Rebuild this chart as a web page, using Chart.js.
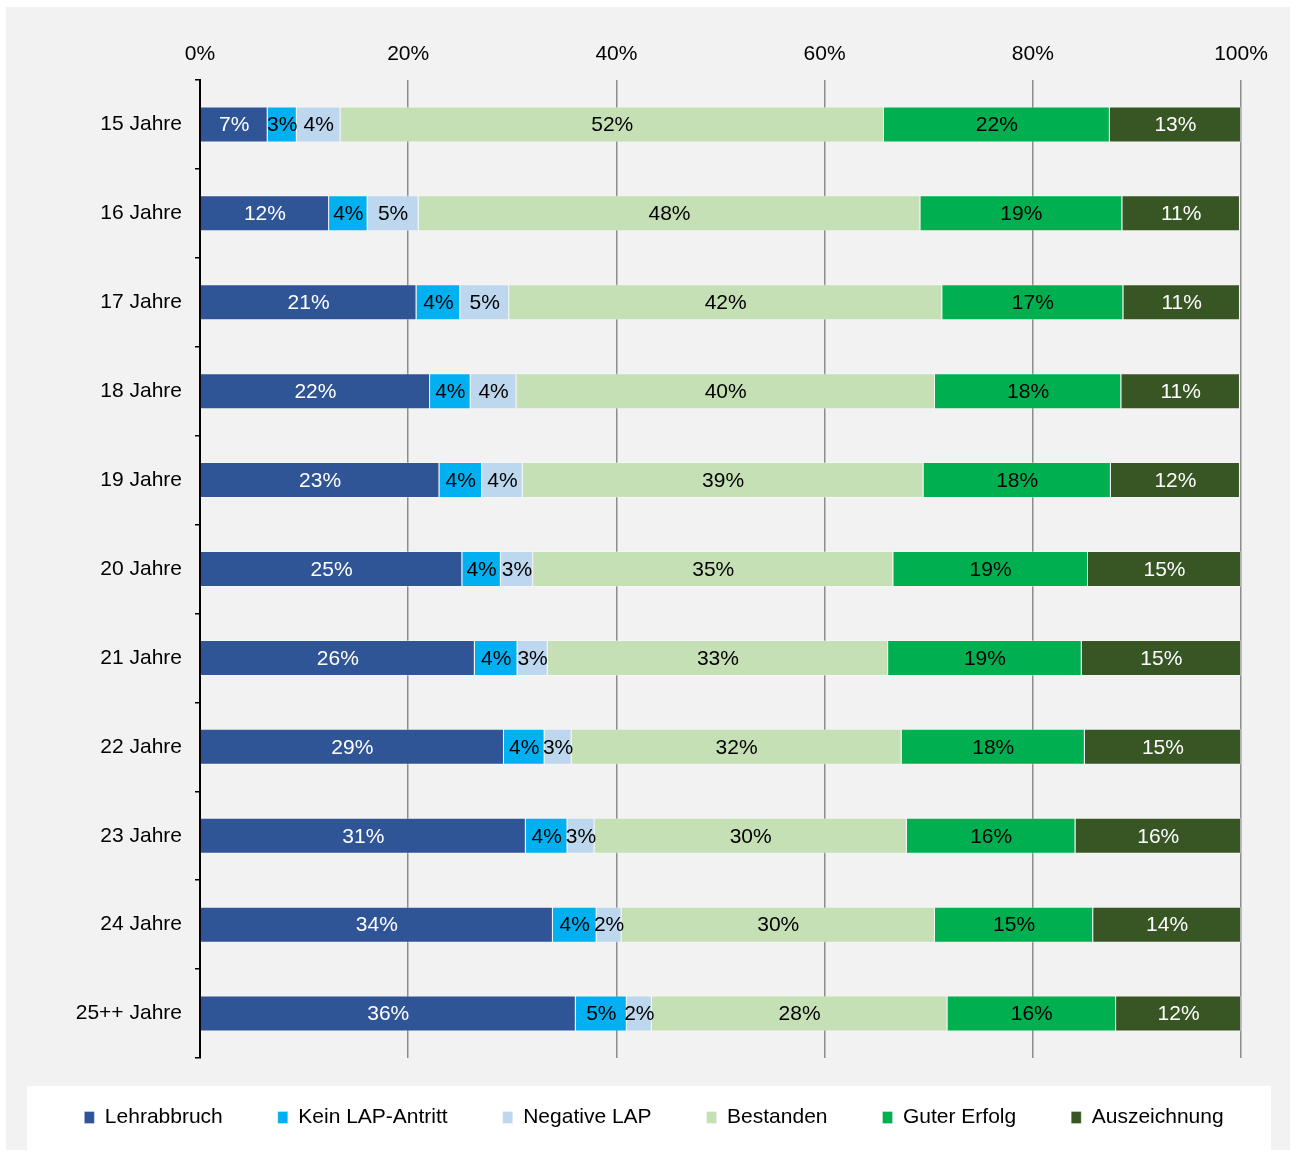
<!DOCTYPE html>
<html>
<head>
<meta charset="utf-8">
<script src="https://cdn.jsdelivr.net/npm/chart.js@4"></script>
<style>
  body { margin: 0; background: #fff; }
  #wrap { position: absolute; left: 6px; top: 7px; width: 1284px; height: 1143px; background: #f2f2f2; }
</style>
</head>
<body>
<div id="wrap"><canvas id="ageChart" width="1284" height="1143"></canvas></div>
<script>
const ages = ['15 Jahre', '16 Jahre', '17 Jahre', '18 Jahre', '19 Jahre', '20 Jahre',
              '21 Jahre', '22 Jahre', '23 Jahre', '24 Jahre', '25++ Jahre'];

// Anteile in %
const lehrabbruch  = [6.5, 12.4, 20.8, 22.1, 23.0, 25.2, 26.4, 29.2, 31.3, 33.9, 36.1];
const keinAntritt  = [2.8, 3.7, 4.2, 3.9, 4.1, 3.7, 4.1, 3.9, 4.0, 4.2, 4.9];
const negativeLap  = [4.2, 4.9, 4.7, 4.4, 3.9, 3.1, 2.9, 2.6, 2.6, 2.4, 2.4];
const bestanden    = [52.2, 48.2, 41.6, 40.2, 38.5, 34.6, 32.7, 31.7, 30.0, 30.1, 28.4];
const guterErfolg  = [21.7, 19.4, 17.4, 17.9, 18.0, 18.7, 18.6, 17.6, 16.2, 15.2, 16.2];
const auszeichnung = [12.6, 11.3, 11.2, 11.4, 12.4, 14.7, 15.3, 15.0, 15.9, 14.2, 12.0];

const seriesNames = ['Lehrabbruch', 'Kein LAP-Antritt', 'Negative LAP', 'Bestanden', 'Guter Erfolg', 'Auszeichnung'];
const seriesData = [lehrabbruch, keinAntritt, negativeLap, bestanden, guterErfolg, auszeichnung];
const seriesColors = ['#2f5597', '#00b0f0', '#bdd7ee', '#c5e0b4', '#00b050', '#375623'];
const labelColors = ['#ffffff', '#000000', '#000000', '#000000', '#000000', '#ffffff'];

const FONT = '"Liberation Sans", Arial, sans-serif';

// Prozentwerte mittig in die Segmente schreiben
const barLabels = {
    id: 'barLabels',
    afterDatasetsDraw(chart) {
        const ctx = chart.ctx;
        ctx.save();
        ctx.font = '21px ' + FONT;
        ctx.textAlign = 'center';
        ctx.textBaseline = 'middle';
        chart.data.datasets.forEach((ds, i) => {
            chart.getDatasetMeta(i).data.forEach((bar, j) => {
                const p = bar.getProps(['x', 'y', 'base'], true);
                ctx.fillStyle = labelColors[i];
                ctx.fillText(Math.round(ds.data[j]) + '%', (p.x + p.base) / 2, p.y + 1);
            });
        });
        ctx.restore();
    }
};

// weisser Kasten hinter der Legende, Legende etwas hoeher
const legendBox = {
    id: 'legendBox',
    afterLayout(chart) {
        chart.legend.top -= 6;
        chart.legend.bottom -= 6;
    },
    beforeDraw(chart) {
        const ctx = chart.ctx;
        ctx.save();
        ctx.fillStyle = '#ffffff';
        ctx.fillRect(21, 1079, 1244, 64);
        ctx.restore();
    }
};

new Chart(document.getElementById('ageChart'), {
    type: 'bar',
    data: {
        labels: ages,
        datasets: seriesNames.map((name, i) => ({
            label: name,
            data: seriesData[i],
            backgroundColor: seriesColors[i],
            borderColor: 'rgba(255,255,255,0.3)',
            borderWidth: 1,
            barPercentage: 0.405,
            categoryPercentage: 1
        }))
    },
    options: {
        indexAxis: 'y',
        responsive: false,
        animation: false,
        layout: { padding: { top: 35, left: 12, right: 0, bottom: 6 } },
        scales: {
            x: {
                position: 'top',
                stacked: true,
                min: 0,
                max: 100,
                ticks: {
                    stepSize: 20,
                    padding: 13,
                    color: '#000',
                    font: { size: 21, family: FONT },
                    callback: v => v + '%'
                },
                grid: { color: '#8c8c8c', lineWidth: 1.5, drawTicks: false },
                border: { display: false },
                afterFit: s => { s.height = 38; }
            },
            y: {
                stacked: true,
                ticks: { padding: 13, color: '#000', font: { size: 21, family: FONT } },
                grid: { offset: true, drawOnChartArea: false, drawTicks: true, tickLength: 5, color: '#000', lineWidth: 1.5 },
                border: { display: true, color: '#000', width: 2 },
                afterFit: s => { s.width = 182; }
            },
            // leere Achse rechts, haelt den Rand frei
            yRight: {
                type: 'category',
                position: 'right',
                ticks: { display: false },
                grid: { display: false },
                border: { display: false },
                afterFit: s => { s.width = 49; }
            }
        },
        plugins: {
            legend: {
                position: 'bottom',
                labels: {
                    boxWidth: 10,
                    boxHeight: 12,
                    padding: 55,
                    color: '#000',
                    font: { size: 21, family: FONT }
                }
            },
            tooltip: { enabled: false }
        }
    },
    plugins: [legendBox, barLabels]
});
</script>
</body>
</html>
